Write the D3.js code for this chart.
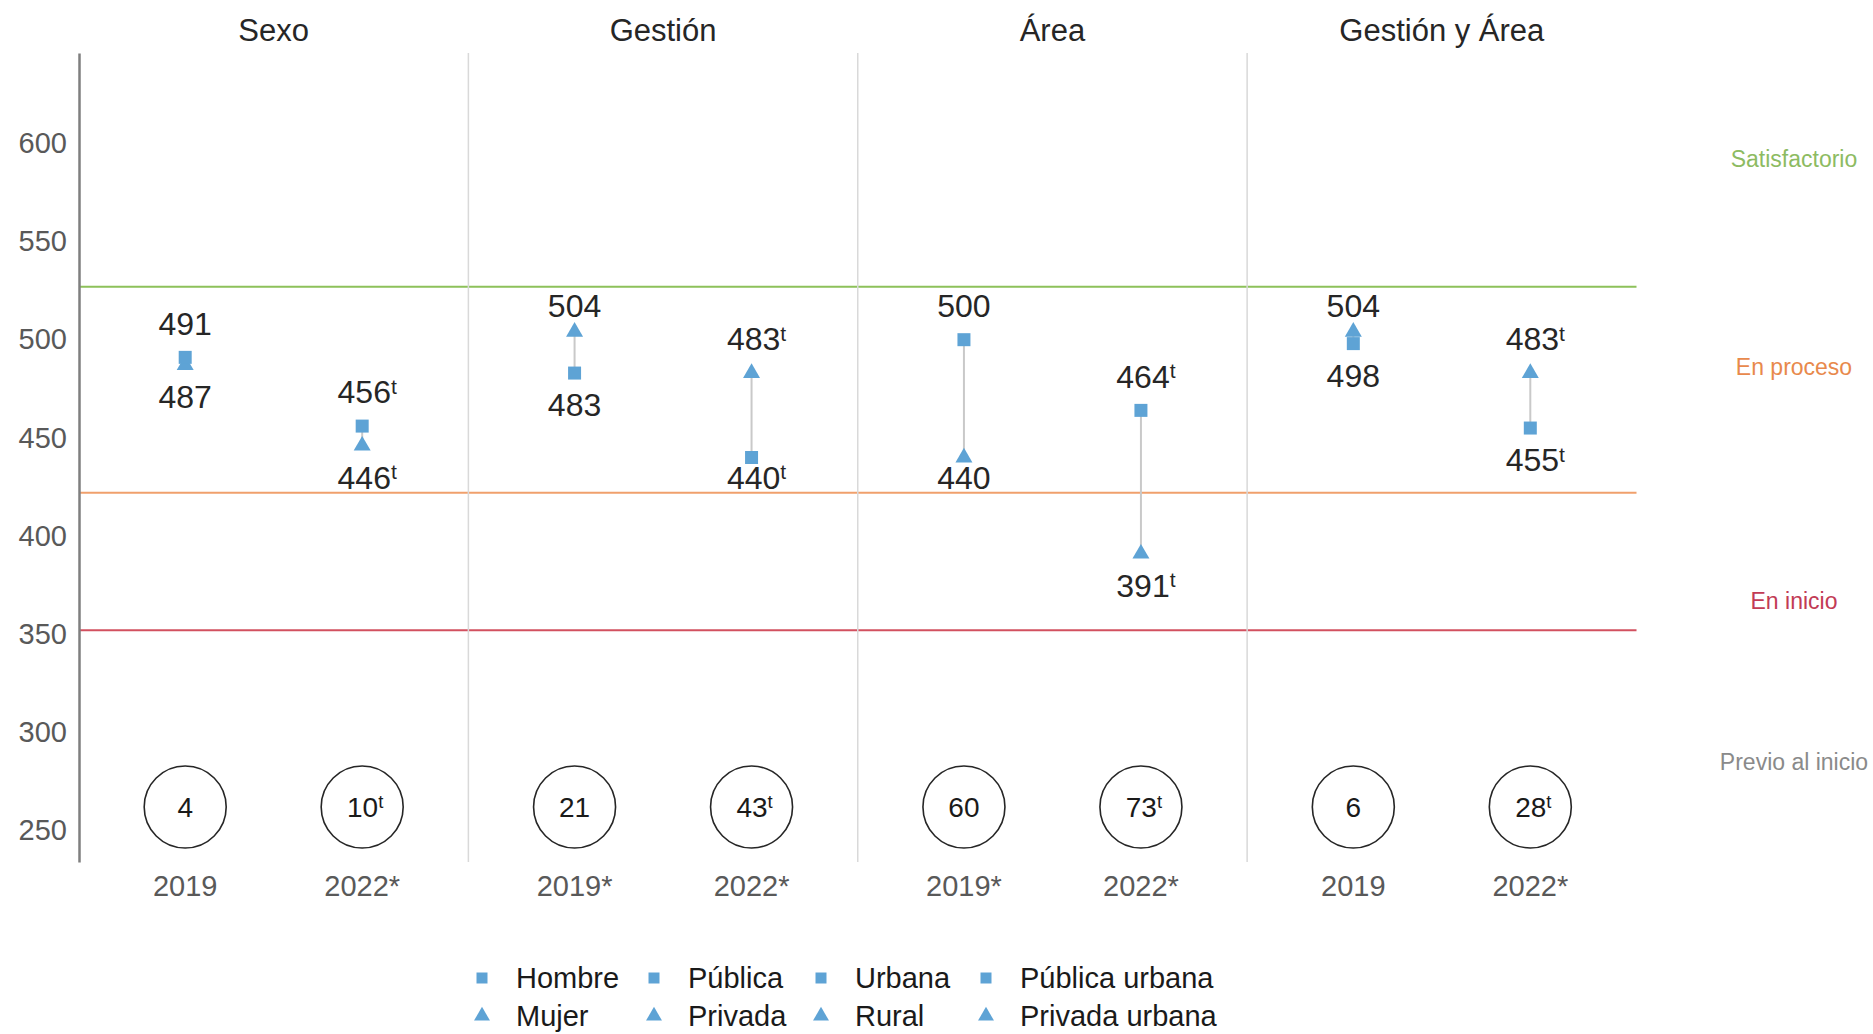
<!DOCTYPE html>
<html>
<head>
<meta charset="utf-8">
<script src="https://cdn.jsdelivr.net/npm/d3@7"></script>
<style>
  body { margin: 0; background: #fff; }
  svg { display: block; font-family: "Liberation Sans", Arial, sans-serif; }
</style>
</head>
<body>
<svg id="chart" width="1873" height="1034"></svg>
<script>

// data
const groups = ["Sexo", "Gestión", "Área", "Gestión y Área"];
const yearLabels = [["2019", "2022*"], ["2019*", "2022*"], ["2019*", "2022*"], ["2019", "2022*"]];
const squareNames = ["Hombre", "Pública", "Urbana", "Pública urbana"];
const triangleNames = ["Mujer", "Privada", "Rural", "Privada urbana"];
const squareValues = [[491, 456], [483, 440], [500, 464], [498, 455]];
const triangleValues = [[487, 446], [504, 483], [440, 391], [504, 483]];
const valueFlags = [[false, true], [false, true], [false, true], [false, true]];
const gapValues = [[4, 10], [21, 43], [60, 73], [6, 28]];
const gapFlags = [[false, true], [false, true], [false, true], [false, true]];
const thresholds = [527, 422, 352];
const thresholdColors = ["#8dc15a", "#f0a06c", "#d2505f"];
const levelNames = ["Satisfactorio", "En proceso", "En inicio", "Previo al inicio"];
const levelColors = ["#8dbb62", "#e8894c", "#c23b55", "#8a8a8a"];
const levelAt = [592, 486, 367, 285];
const yTicks = [250, 300, 350, 400, 450, 500, 550, 600];

const blue = "#5ea3d5";

const svg = d3.select("#chart");

const y = d3.scaleLinear().domain([234, 646]).range([862, 53]);

const xGroup = d3.scaleBand().domain(groups).range([79, 1636.5]).padding(0);
const xYear = d3.scalePoint().domain([0, 1]).range([0, xGroup.bandwidth()]).padding(0.6);

// thresholds
svg.append("g").selectAll("line")
  .data(thresholds)
  .join("line")
    .attr("x1", 79).attr("x2", 1636.5)
    .attr("y1", d => y(d)).attr("y2", d => y(d))
    .attr("stroke", (d, i) => thresholdColors[i])
    .attr("stroke-width", 2);

// group dividers
svg.append("g").selectAll("line")
  .data(groups.slice(1))
  .join("line")
    .attr("x1", d => xGroup(d)).attr("x2", d => xGroup(d))
    .attr("y1", 53).attr("y2", 862)
    .attr("stroke", "#d9d9d9")
    .attr("stroke-width", 1.5);

// y axis
const yAxis = svg.append("g")
  .attr("transform", "translate(79,0)")
  .call(d3.axisLeft(y).tickValues(yTicks).tickSize(0).tickPadding(12).tickSizeOuter(0));
yAxis.select(".domain").attr("stroke", "#7f7f7f").attr("stroke-width", 2.5);
yAxis.selectAll("text")
  .attr("font-size", 29)
  .attr("fill", "#595959")
  .attr("font-family", "Liberation Sans, Arial, sans-serif");

// group headers
svg.append("g").selectAll("text")
  .data(groups)
  .join("text")
    .attr("x", d => xGroup(d) + xGroup.bandwidth() / 2)
    .attr("y", 30)
    .attr("dy", "0.35em")
    .attr("text-anchor", "middle")
    .attr("font-size", 31)
    .attr("fill", "#262626")
    .text(d => d);

// level labels on the right
svg.append("g").selectAll("text")
  .data(levelNames)
  .join("text")
    .attr("x", 1794)
    .attr("y", (d, i) => y(levelAt[i]))
    .attr("dy", "0.35em")
    .attr("text-anchor", "middle")
    .attr("font-size", 23)
    .attr("fill", (d, i) => levelColors[i])
    .text(d => d);

// flatten points
let rows = [];
groups.forEach((g, gi) => {
  [0, 1].forEach(k => {
    rows.push({
      group: g, k: k,
      x: xGroup(g) + xYear(k),
      sq: squareValues[gi][k],
      tri: triangleValues[gi][k],
      flag: valueFlags[gi][k],
      gap: gapValues[gi][k],
      gapFlag: gapFlags[gi][k],
      year: yearLabels[gi][k]
    });
  });
});

function addLabel(sel, txt, flag, size) {
  sel.append("tspan").text(txt);
  if (flag) {
    sel.append("tspan")
      .attr("font-size", size * 0.66)
      .attr("dy", -size * 0.3)
      .text("t");
  }
}

const pts = svg.append("g");

// connectors
pts.selectAll("line")
  .data(rows)
  .join("line")
    .attr("x1", d => d.x).attr("x2", d => d.x)
    .attr("y1", d => y(d.sq)).attr("y2", d => y(d.tri))
    .attr("stroke", "#c9c9c9")
    .attr("stroke-width", 2);

// triangles first, squares on top
pts.selectAll(".tri")
  .data(rows)
  .join("path")
    .attr("class", "tri")
    .attr("d", d3.symbol(d3.symbolTriangle, 125))
    .attr("transform", d => "translate(" + d.x + "," + y(d.tri) + ")")
    .attr("fill", blue);

pts.selectAll(".sq")
  .data(rows)
  .join("path")
    .attr("class", "sq")
    .attr("d", d3.symbol(d3.symbolSquare, 169))
    .attr("transform", d => "translate(" + d.x + "," + y(d.sq) + ")")
    .attr("fill", blue);

// value labels: higher above, lower below, kept inside the band lines
const topLimit = y(thresholds[0]) + 19;
const lowLimit = y(thresholds[1]) - 15;
rows.forEach(d => {
  let hi = Math.max(d.sq, d.tri), lo = Math.min(d.sq, d.tri);
  let yHi = y(hi) - 34;
  if (hi < thresholds[0]) yHi = Math.max(yHi, topLimit);
  let yLo = y(lo) + 32;
  if (lo > thresholds[1]) yLo = Math.min(yLo, lowLimit);
  [[hi, yHi], [lo, yLo]].forEach(p => {
    let t = pts.append("text")
      .attr("x", d.x + (d.flag ? 5 : 0))
      .attr("y", p[1])
      .attr("dy", "0.35em")
      .attr("text-anchor", "middle")
      .attr("font-size", 32)
      .attr("fill", "#262626");
    addLabel(t, p[0], d.flag, 32);
  });
});

// gap circles
const circY = 807;
const circ = svg.append("g");
circ.selectAll("circle")
  .data(rows)
  .join("circle")
    .attr("cx", d => d.x)
    .attr("cy", circY)
    .attr("r", 41)
    .attr("fill", "none")
    .attr("stroke", "#262626")
    .attr("stroke-width", 1.6);
rows.forEach(d => {
  let t = circ.append("text")
    .attr("x", d.x + (d.gapFlag ? 3 : 0))
    .attr("y", circY)
    .attr("dy", "0.35em")
    .attr("text-anchor", "middle")
    .attr("font-size", 28)
    .attr("fill", "#1a1a1a");
  addLabel(t, d.gap, d.gapFlag, 28);
});

// year labels
svg.append("g").selectAll("text")
  .data(rows)
  .join("text")
    .attr("x", d => d.x)
    .attr("y", 886)
    .attr("dy", "0.35em")
    .attr("text-anchor", "middle")
    .attr("font-size", 29)
    .attr("fill", "#595959")
    .text(d => d.year);

// legend
const legX = [482, 654, 821, 986];
const leg = svg.append("g");
[squareNames, triangleNames].forEach((names, r) => {
  names.forEach((n, i) => {
    let ly = 978 + r * 38;
    leg.append("path")
      .attr("d", d3.symbol(r === 0 ? d3.symbolSquare : d3.symbolTriangle, r === 0 ? 121 : 110))
      .attr("transform", "translate(" + legX[i] + "," + ly + ")")
      .attr("fill", blue);
    leg.append("text")
      .attr("x", legX[i] + 34)
      .attr("y", ly)
      .attr("dy", "0.35em")
      .attr("font-size", 29)
      .attr("fill", "#1a1a1a")
      .text(n);
  });
});

</script>
</body>
</html>
